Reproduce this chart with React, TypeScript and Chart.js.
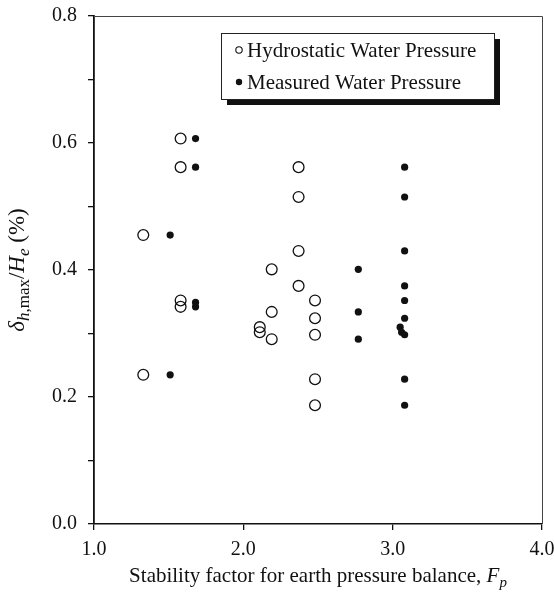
import React, { useEffect, useRef } from 'react';
import { Chart, registerables } from 'chart.js';

Chart.register(...registerables);

// ---- Data ----
const hydroFp = [1.33, 1.33, 1.58, 1.58, 1.58, 1.58, 2.11, 2.11, 2.19, 2.19, 2.19, 2.37, 2.37, 2.37, 2.37, 2.48, 2.48, 2.48, 2.48, 2.48];
const hydroDelta = [0.455, 0.235, 0.607, 0.562, 0.352, 0.342, 0.31, 0.302, 0.401, 0.334, 0.291, 0.562, 0.515, 0.43, 0.375, 0.352, 0.324, 0.298, 0.228, 0.187];

const measFp = [1.51, 1.51, 1.68, 1.68, 1.68, 1.68, 2.77, 2.77, 2.77, 3.05, 3.06, 3.08, 3.08, 3.08, 3.08, 3.08, 3.08, 3.08, 3.08, 3.08];
const measDelta = [0.455, 0.235, 0.607, 0.562, 0.349, 0.342, 0.401, 0.334, 0.291, 0.31, 0.302, 0.562, 0.515, 0.43, 0.375, 0.352, 0.324, 0.298, 0.228, 0.187];

const seriesLabels = ['Hydrostatic Water Pressure', 'Measured Water Pressure'];

const xTicks = [1, 2, 3, 4];
const xTickLabels = ['1.0', '2.0', '3.0', '4.0'];
const yMajorTicks = [0, 0.2, 0.4, 0.6, 0.8];
const yMajorLabels = ['0.0', '0.2', '0.4', '0.6', '0.8'];
const yMinorTicks = [0.1, 0.3, 0.5, 0.7];

const SERIF = "'Liberation Serif', 'Times New Roman', serif";

type Seg = { text: string; italic?: boolean; sub?: boolean };

function drawRich(ctx: CanvasRenderingContext2D, segs: Seg[], cx: number, cy: number, size: number, subSize: number) {
  const fontOf = (s: Seg) => `${s.italic ? 'italic ' : ''}${s.sub ? subSize : size}px ${SERIF}`;
  let total = 0;
  const widths = segs.map((s) => {
    ctx.font = fontOf(s);
    const w = ctx.measureText(s.text).width;
    total += w;
    return w;
  });
  let x = cx - total / 2;
  ctx.textBaseline = 'alphabetic';
  ctx.textAlign = 'left';
  const base = cy + size * 0.33;
  segs.forEach((s, i) => {
    ctx.font = fontOf(s);
    ctx.fillText(s.text, x, s.sub ? base + size * 0.25 : base);
    x += widths[i];
  });
}

const decorPlugin = {
  id: 'decor',
  afterDraw(chart: any) {
    const ctx: CanvasRenderingContext2D = chart.ctx;
    const a = chart.chartArea;
    ctx.save();
    // top and right frame lines
    ctx.strokeStyle = '#444';
    ctx.lineWidth = 1;
    ctx.beginPath();
    ctx.moveTo(a.left, Math.round(a.top) + 0.5);
    ctx.lineTo(Math.round(a.right) + 0.5, Math.round(a.top) + 0.5);
    ctx.lineTo(Math.round(a.right) + 0.5, a.bottom);
    ctx.stroke();

    ctx.fillStyle = '#111';
    // x title
    drawRich(
      ctx,
      [
        { text: 'Stability factor for earth pressure balance, ' },
        { text: 'F', italic: true },
        { text: 'p', italic: true, sub: true },
      ],
      (a.left + a.right) / 2,
      575,
      21,
      15
    );
    // y title
    ctx.save();
    ctx.translate(16, (a.top + a.bottom) / 2);
    ctx.rotate(-Math.PI / 2);
    drawRich(
      ctx,
      [
        { text: 'δ', italic: true },
        { text: 'h', italic: true, sub: true },
        { text: ',max', sub: true },
        { text: '/' },
        { text: 'H', italic: true },
        { text: 'e', italic: true, sub: true },
        { text: ' (%)' },
      ],
      0,
      0,
      23,
      17
    );
    ctx.restore();

    // legend
    const bx = 221, by = 33, bw = 273, bh = 66;
    ctx.fillStyle = '#111';
    ctx.fillRect(bx + 6, by + 6, bw, bh);
    ctx.fillStyle = '#fff';
    ctx.fillRect(bx, by, bw, bh);
    ctx.strokeStyle = '#222';
    ctx.lineWidth = 1;
    ctx.strokeRect(bx + 0.5, by + 0.5, bw, bh);

    const rows = [50, 82];
    chart.data.datasets.forEach((ds: any, i: number) => {
      const y = rows[i];
      ctx.beginPath();
      ctx.arc(239, y, 3.2, 0, Math.PI * 2);
      if (i === 0) {
        ctx.strokeStyle = '#111';
        ctx.lineWidth = 1.1;
        ctx.stroke();
      } else {
        ctx.fillStyle = '#111';
        ctx.fill();
      }
      ctx.fillStyle = '#111';
      ctx.font = `21px ${SERIF}`;
      ctx.textAlign = 'left';
      ctx.textBaseline = 'middle';
      ctx.fillText(ds.label, 247, y + 1);
    });
    ctx.restore();
  },
};

export default function App() {
  const ref = useRef<HTMLCanvasElement | null>(null);

  useEffect(() => {
    const canvas = ref.current;
    if (!canvas) return;
    const chart = new Chart(canvas, {
      type: 'scatter',
      data: {
        datasets: [
          {
            label: seriesLabels[0],
            data: hydroFp.map((x, i) => ({ x, y: hydroDelta[i] })),
            pointStyle: 'circle',
            pointRadius: 5.4,
            pointBackgroundColor: 'rgba(0,0,0,0)',
            pointBorderColor: '#111',
            pointBorderWidth: 1.3,
          },
          {
            label: seriesLabels[1],
            data: measFp.map((x, i) => ({ x, y: measDelta[i] })),
            pointStyle: 'circle',
            pointRadius: 3.6,
            pointBackgroundColor: '#111',
            pointBorderColor: '#111',
            pointBorderWidth: 0,
          },
        ],
      },
      options: {
        animation: false,
        responsive: false,
        events: [],
        layout: { padding: { left: 0, right: 12, top: 16, bottom: 0 } },
        plugins: { legend: { display: false }, tooltip: { enabled: false } },
        scales: {
          x: {
            type: 'linear',
            min: 1,
            max: 4,
            afterBuildTicks: (s: any) => {
              s.ticks = xTicks.map((v) => ({ value: v }));
            },
            afterFit: (s: any) => {
              s.height = 68;
              s.paddingLeft = 0;
              s.paddingRight = 0;
            },
            grid: { drawOnChartArea: false, drawTicks: true, tickLength: 6, color: '#111', lineWidth: 1.3 },
            border: { display: true, color: '#111', width: 1.5 },
            ticks: {
              autoSkip: false,
              maxRotation: 0,
              padding: 8,
              color: '#111',
              font: { family: SERIF, size: 20 },
              callback: (v: any) => {
                const i = xTicks.indexOf(Number(v));
                return i >= 0 ? xTickLabels[i] : '';
              },
            },
          },
          y: {
            type: 'linear',
            min: 0,
            max: 0.8,
            afterBuildTicks: (s: any) => {
              s.ticks = [...yMajorTicks, ...yMinorTicks].sort((p, q) => p - q).map((v) => ({ value: v }));
            },
            afterFit: (s: any) => {
              s.width = 94;
              s.paddingTop = 0;
              s.paddingBottom = 0;
            },
            grid: { drawOnChartArea: false, drawTicks: true, tickLength: 6, color: '#111', lineWidth: 1.3 },
            border: { display: true, color: '#111', width: 1.8 },
            ticks: {
              autoSkip: false,
              padding: 11,
              color: '#111',
              font: { family: SERIF, size: 20 },
              callback: (v: any) => {
                const i = yMajorTicks.findIndex((t) => Math.abs(t - Number(v)) < 1e-6);
                return i >= 0 ? yMajorLabels[i] : '';
              },
            },
          },
        },
      },
      plugins: [decorPlugin],
    } as any);
    return () => chart.destroy();
  }, []);

  return (
    <div style={{ position: 'absolute', left: 0, top: 0, width: 554, height: 592, background: '#fff' }}>
      <canvas ref={ref} width={554} height={592} style={{ width: 554, height: 592 }} />
    </div>
  );
}
